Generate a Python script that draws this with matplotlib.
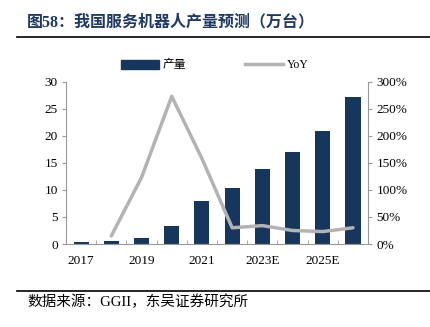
import matplotlib
matplotlib.use("Agg")
import matplotlib.pyplot as plt
from matplotlib.lines import Line2D

plt.rcParams['font.family'] = ['Liberation Serif', 'Noto Sans CJK SC', 'DejaVu Sans']

years = ['2017', '2018', '2019', '2020', '2021', '2022E', '2023E', '2024E', '2025E', '2026E']
production = [0.4, 0.6, 1.05, 3.3, 8.0, 10.4, 13.8, 17.1, 20.9, 27.1]
yoy = [None, 15, 123, 273, 158, 30, 34, 25, 23, 30]
tick_labels = ['2017', '', '2019', '', '2021', '', '2023E', '', '2025E', '']

bar_color = '#17365d'
line_color = '#b3b3b3'
axis_color = '#999999'

fig = plt.figure(figsize=(4.3, 3.27), dpi=100)
ax = fig.add_axes([0.1535, 0.2538, 0.7025, 0.4962])
x = list(range(len(years)))
ax.bar(x, production, width=0.5, color=bar_color, zorder=2)
ax.set_xlim(-0.5, len(years) - 0.5)
ax.set_ylim(0, 30)
ax.set_yticks([0, 5, 10, 15, 20, 25, 30])
ax.set_xticks(x)
ax.set_xticklabels(tick_labels)
ax.set_xticks([i + 0.5 for i in range(len(years) - 1)], minor=True)
ax.tick_params(axis='x', which='major', length=0, labelsize=9.5, pad=8)
ax.tick_params(axis='x', which='minor', length=3, direction='in', color=axis_color)
ax.tick_params(axis='y', length=3, color=axis_color, labelsize=9.5, pad=3)
for s in ['top', 'right']:
    ax.spines[s].set_visible(False)
ax.spines['left'].set_color(axis_color)
ax.spines['bottom'].set_color(axis_color)

ax2 = ax.twinx()
xs = [i for i, v in zip(x, yoy) if v is not None]
ys = [v for v in yoy if v is not None]
ax2.plot(xs, ys, color=line_color, lw=2.5, solid_capstyle='round', zorder=3)
ax2.set_ylim(0, 300)
ax2.set_yticks([0, 50, 100, 150, 200, 250, 300])
ax2.set_yticklabels([f'{v}%' for v in [0, 50, 100, 150, 200, 250, 300]])
ax2.tick_params(axis='y', length=3, color=axis_color, labelsize=9.5, pad=3)
for s in ['top', 'left', 'bottom']:
    ax2.spines[s].set_visible(False)
ax2.spines['right'].set_color(axis_color)

handles = [plt.Rectangle((0, 0), 1, 1, color=bar_color),
           Line2D([0], [0], color=line_color, lw=2.5)]
fig.legend(handles, ['产量', 'YoY'], loc='center', bbox_to_anchor=(0.5, 0.8), ncol=2,
           frameon=False, fontsize=8.5, handlelength=3.2, handleheight=0.8,
           columnspacing=5, handletextpad=0.3)

fig.text(0.063, 0.933, '图58：我国服务机器人产量预测（万台）', fontsize=11.5, fontweight='bold',
         color='#1f3864', va='center', ha='left')
fig.add_artist(Line2D([0.04, 1.0], [0.887, 0.887], color='black', lw=1.2))
fig.add_artist(Line2D([0.04, 1.0], [0.111, 0.111], color='black', lw=1.2))
fig.text(0.063, 0.076, '数据来源：GGII，东吴证券研究所', fontsize=10.5, va='center', ha='left')

fig.savefig('out.png', dpi=100)
